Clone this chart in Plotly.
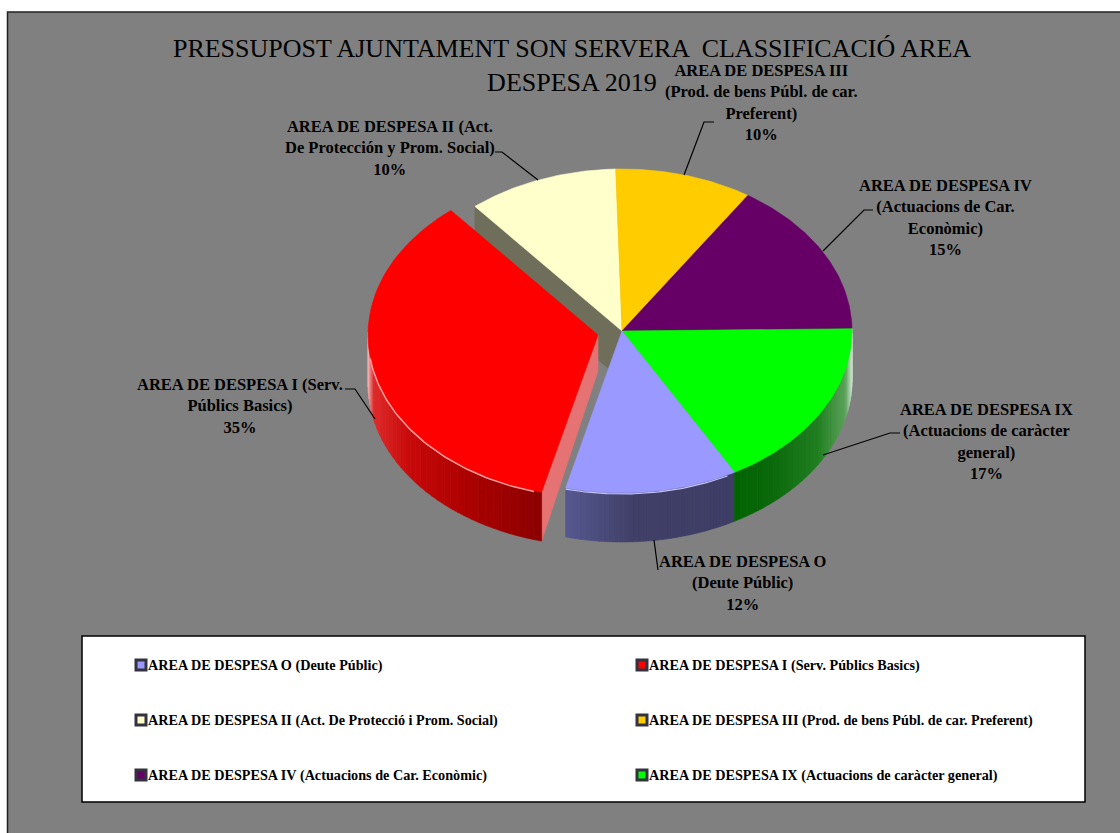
import math
import plotly.graph_objects as go

categories = ["O", "I", "II", "III", "IV", "IX"]
values = [11.95, 34.65, 10.49, 9.55, 15.4, 16.9]
colors = ["#9999ff", "#ff0000", "#ffffcc", "#ffcc00", "#660066", "#00ff00"]
legend_labels = [
    "AREA DE DESPESA O (Deute Públic)",
    "AREA DE DESPESA I (Serv. Públics Basics)",
    "AREA DE DESPESA II (Act. De Protecció i Prom. Social)",
    "AREA DE DESPESA III (Prod. de bens Públ. de car. Preferent)",
    "AREA DE DESPESA IV (Actuacions de Car. Econòmic)",
    "AREA DE DESPESA IX (Actuacions de caràcter general)",
]
slice_labels = [
    "AREA DE DESPESA O<br>(Deute Públic)",
    "AREA DE DESPESA I (Serv.<br>Públics Basics)",
    "AREA DE DESPESA II (Act.<br>De Protección y Prom. Social)",
    "AREA DE DESPESA III<br>(Prod. de bens Públ. de car.<br>Preferent)",
    "AREA DE DESPESA IV<br>(Actuacions de Car.<br>Econòmic)",
    "AREA DE DESPESA IX<br>(Actuacions de caràcter<br>general)",
]
title_text = "PRESSUPOST AJUNTAMENT SON SERVERA \u00a0CLASSIFICACIÓ AREA<br>DESPESA 2019"

# geometry
CX, CY, RX, RY, DEPTH = 622, 331, 230, 162, 49
START = 150.7
OFFSET = {1: (-24, 4)}
FONT = "Liberation Serif"

def pt(a, ox=0, oy=0, dz=0):
    r = math.radians(a)
    return CX + ox + RX * math.sin(r), CY + oy - RY * math.cos(r) + dz

def arc(a0, a1, ox=0, oy=0, dz=0, n=60):
    return [pt(a0 + (a1 - a0) * i / n, ox, oy, dz) for i in range(n + 1)]

fig = go.Figure()

def poly(points, color):
    xs = [p[0] for p in points] + [points[0][0]]
    ys = [p[1] for p in points] + [points[0][1]]
    fig.add_trace(go.Scatter(x=xs, y=ys, mode="lines", fill="toself", fillcolor=color,
                             line=dict(color=color, width=0.6), hoverinfo="skip", showlegend=False))

def line(points, color="#000000", width=1.2):
    fig.add_trace(go.Scatter(x=[p[0] for p in points], y=[p[1] for p in points], mode="lines",
                             line=dict(color=color, width=width), hoverinfo="skip", showlegend=False))

def mix(stops, t):
    t = max(0.0, min(1.0, t))
    for (t0, c0), (t1, c1) in zip(stops, stops[1:]):
        if t <= t1:
            f = (t - t0) / (t1 - t0) if t1 > t0 else 0
            ch = [int(round(int(c0[i:i + 2], 16) * (1 - f) + int(c1[i:i + 2], 16) * f)) for i in (1, 3, 5)]
            return "#%02x%02x%02x" % tuple(ch)
    return stops[-1][1]

def wall(a0, a1, stops, ox=0, oy=0, n=36):
    """Outer wall from angle a0 to a1; colour by horizontal position."""
    xs = [p[0] for p in arc(a0, a1, ox, oy)]
    lo, hi = min(xs), max(xs)
    for i in range(n):
        b0 = a0 + (a1 - a0) * i / n
        b1 = a0 + (a1 - a0) * (i + 1) / n
        top = arc(b0, b1, ox, oy, n=3)
        bottom = arc(b1, b0, ox, oy, DEPTH, n=3)
        t = (0.5 * (pt(b0, ox, oy)[0] + pt(b1, ox, oy)[0]) - lo) / (hi - lo)
        poly(top + bottom, mix(stops, t))

total = sum(values)
angles = {}
a = START
for i, v in enumerate(values):
    angles[i] = (a, a + v / total * 360)
    a += v / total * 360

ox, oy = OFFSET[1]
# inner walls
a0II = angles[2][0]
poly([(CX, CY), pt(a0II), pt(a0II, dz=DEPTH), (CX, CY + DEPTH)], "#6e6e5a")
a0I = angles[1][0]
poly([(CX + ox, CY + oy), pt(a0I, ox, oy), pt(a0I, ox, oy, DEPTH), (CX + ox, CY + oy + 36)], "#e57373")
# outer walls
wall(a0I, 271, [(0, "#f2b0b0"), (0.03, "#e02a2a"), (0.25, "#c80808"), (0.6, "#aa0000"), (1, "#8b0000")], ox, oy)
wall(angles[0][0], angles[0][1], [(0, "#565890"), (0.4, "#3f3f68"), (1, "#3d3d66")])
wall(89, angles[0][0], [(0, "#006400"), (0.3, "#0a680a"), (0.7, "#1f7f1f"), (0.94, "#5aa35a"), (1, "#d8e8d8")])

# top faces
for i in [2, 3, 4, 5, 0, 1]:
    a0, a1 = angles[i]
    dx, dy = OFFSET.get(i, (0, 0))
    poly([(CX + dx, CY + dy)] + arc(a0, a1, dx, dy), colors[i])

# rim highlights
line(arc(angles[1][0] + 2, 262, ox, oy, 1), "#ff9a9a", 1.5)
line(arc(angles[0][0] + 2, angles[0][1], dz=1), "#c4c4ff", 1.2)

# leader lines
leaders = [
    [(654, 540), (658, 570)],
    [(345, 389), (355, 389), (375, 419)],
    [(495, 152), (502, 152), (538, 180)],
    [(684, 175), (704, 122), (714, 122)],
    [(823, 251), (864, 210), (873, 210)],
    [(823, 455), (890, 433), (900, 433)],
]
for l in leaders:
    line(l)

# slice labels
label_pos = [(743, 583), (240, 406), (390, 148), (761, 102), (945, 217), (986, 441)]
annotations = []
for lab, v, (x, y) in zip(slice_labels, values, label_pos):
    annotations.append(dict(x=x, y=y, xref="x", yref="y", showarrow=False, align="center",
                            text=f"<b>{lab}<br>{v:.0f}%</b>", font=dict(family=FONT, size=16.5, color="#000000")))

# legend
leg_x = [141, 642]
leg_y = [665, 720, 775]
text_x = [146, 647]
for i, lab in enumerate(legend_labels):
    c, r = i % 2, i // 2
    fig.add_trace(go.Scatter(x=[leg_x[c]], y=[leg_y[r]], mode="markers", hoverinfo="skip", showlegend=False,
                             marker=dict(symbol="square", size=10, color=colors[i], line=dict(color="#33333f", width=3))))
    annotations.append(dict(x=text_x[c], y=leg_y[r], xref="x", yref="y", xanchor="left", showarrow=False,
                            text=f"<b>{lab}</b>", font=dict(family=FONT, size=14.2, color="#000000")))

fig.update_layout(
    width=1120, height=833, margin=dict(l=0, r=0, t=0, b=0),
    paper_bgcolor="#ffffff", plot_bgcolor="rgba(0,0,0,0)", showlegend=False,
    title=dict(text=title_text, x=572 / 1120, xanchor="center", xref="paper", y=1 - 57 / 833, yanchor="top",
               font=dict(family=FONT, size=26, color="#000000")),
    xaxis=dict(range=[0, 1120], visible=False, domain=[0, 1], fixedrange=True),
    yaxis=dict(range=[833, 0], visible=False, domain=[0, 1], fixedrange=True),
    annotations=annotations,
    shapes=[
        dict(type="rect", x0=7.5, y0=12, x1=1130, y1=845, xref="x", yref="y", layer="below",
             fillcolor="#808080", line=dict(color="#202020", width=1.5)),
        dict(type="rect", x0=82, y0=636, x1=1085, y1=802, xref="x", yref="y", layer="below",
             fillcolor="#ffffff", line=dict(color="#000000", width=1.5)),
    ],
)
fig.write_html("out.html", config=dict(displayModeBar=False),
               post_script="document.body.style.margin='0';document.body.style.overflow='hidden';")
